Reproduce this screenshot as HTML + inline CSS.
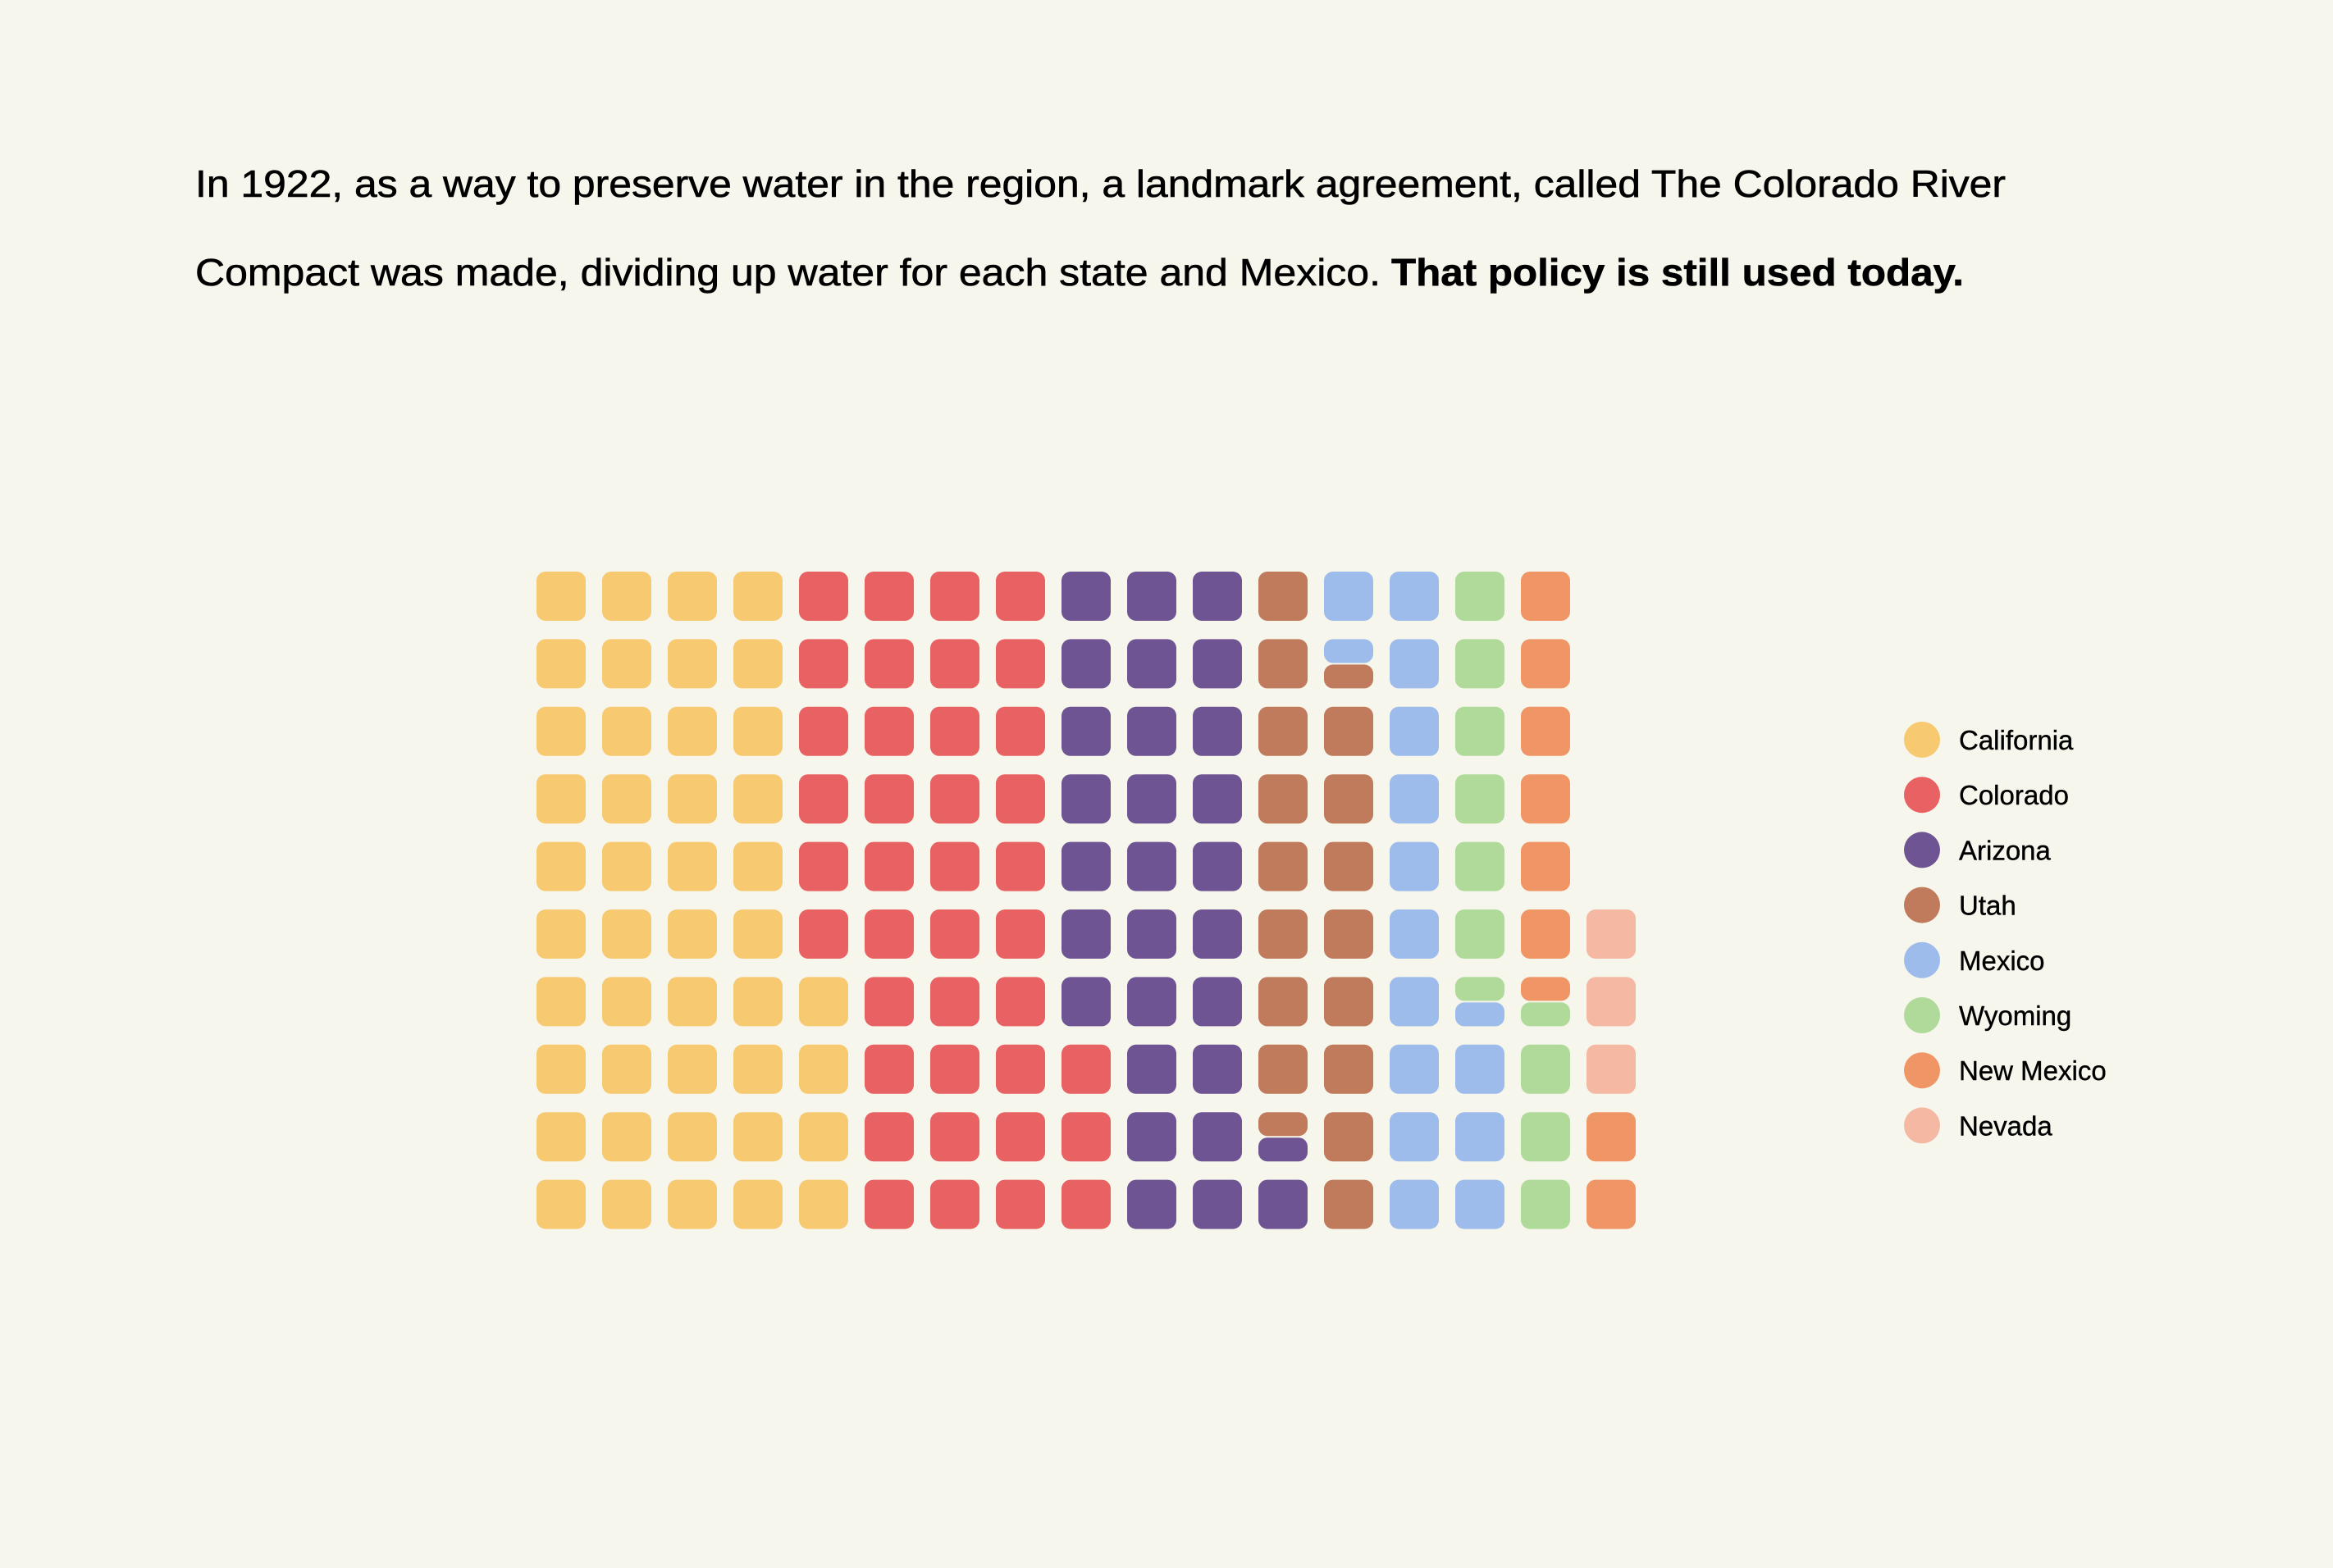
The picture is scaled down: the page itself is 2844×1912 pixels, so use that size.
<!DOCTYPE html>
<html><head><meta charset="utf-8"><style>
body{margin:0;background:#f7f6ec;}
svg{display:block;}
</style></head><body>
<svg id="chart" width="2844" height="1912" viewBox="0 0 2844 1912" xmlns="http://www.w3.org/2000/svg">
<rect width="2844" height="1912" fill="#f7f6ec"/>
<g font-family="'Liberation Sans', sans-serif" font-size="46" fill="#000" stroke="#000" stroke-width="0.6">
<text x="238" y="240" textLength="2207" lengthAdjust="spacingAndGlyphs">In 1922, as a way to preserve water in the region, a landmark agreement, called The Colorado River</text>
<text x="238" y="348" textLength="1445" lengthAdjust="spacingAndGlyphs">Compact was made, dividing up water for each state and Mexico.</text>
<text x="1696" y="348" textLength="698" lengthAdjust="spacingAndGlyphs" font-weight="bold">That policy is still used today.</text>
</g>
<g id="grid"></g>
<g id="legend" font-family="'Liberation Sans', sans-serif" font-size="33" fill="#000" stroke="#000" stroke-width="0.4"></g>
</svg>
<script>
const states = ["California","Colorado","Arizona","Utah","Mexico","Wyoming","New Mexico","Nevada"];
const shares = [44, 39, 28.5, 17, 15, 10, 8.5, 3];
const colors = ["#f7ca72","#e86163","#6e5492","#c07b5d","#9dbbeb","#afda9a","#f09666","#f4b8a3"];
const rowsPerCol = 10;
const NS = "http://www.w3.org/2000/svg";
const x0 = 654, y0 = 697, dx = 80, dy = 82.4, cs = 60;
const grid = document.getElementById('grid');
const bounds = []; let acc = 0;
shares.forEach(v => { bounds.push([acc, acc + v]); acc += v; });
const nCells = Math.ceil(acc);
for (let i = 0; i < nCells; i++) {
  const col = Math.floor(i / rowsPerCol), rowFromBottom = i % rowsPerCol;
  const cx = x0 + col * dx;
  const cellBottom = y0 + (rowsPerCol - 1 - rowFromBottom) * dy + cs;
  const segs = [];
  bounds.forEach((b, s) => {
    const lo = Math.max(b[0], i), hi = Math.min(b[1], i + 1);
    if (hi - lo > 0.001) segs.push([s, lo - i, hi - i]);
  });
  segs.forEach(([s, lo, hi]) => {
    const gap = segs.length > 1 ? 1 : 0;
    const yTop = cellBottom - hi * cs + (hi < 1 ? gap : 0);
    const yBot = cellBottom - lo * cs - (lo > 0 ? gap : 0);
    const r = document.createElementNS(NS, 'rect');
    r.setAttribute('x', cx); r.setAttribute('y', yTop);
    r.setAttribute('width', cs); r.setAttribute('height', Math.max(1, yBot - yTop));
    r.setAttribute('rx', 11); r.setAttribute('fill', colors[s]);
    
    
    grid.appendChild(r);
  });
}
const legend = document.getElementById('legend');
states.forEach((st, k) => {
  const cy = 902 + k * 67.2;
  const c = document.createElementNS(NS, 'circle');
  c.setAttribute('cx', 2343); c.setAttribute('cy', cy); c.setAttribute('r', 22);
  c.setAttribute('fill', colors[k]); c.setAttribute('stroke', 'none');
  
  
  legend.appendChild(c);
  const t = document.createElementNS(NS, 'text');
  t.setAttribute('x', 2388); t.setAttribute('y', cy + 12);
  t.textContent = st;
  
  
  legend.appendChild(t);
});
</script>
</body></html>
